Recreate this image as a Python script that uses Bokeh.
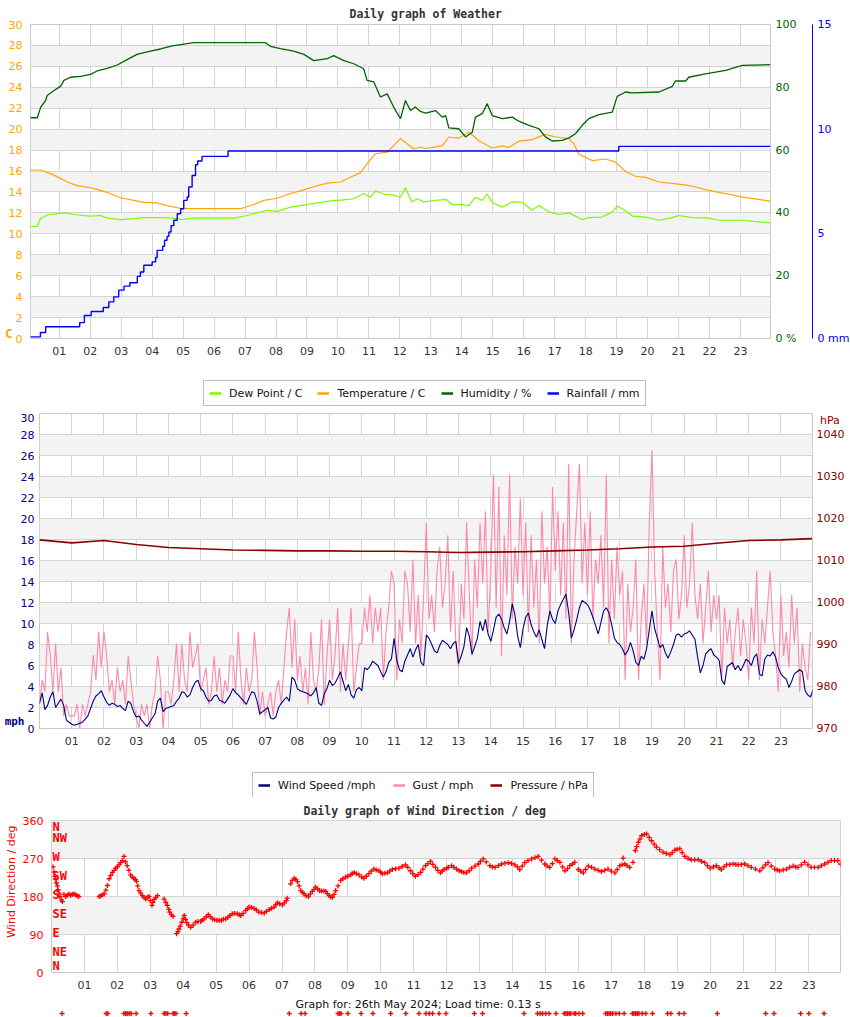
import numpy as np
from bokeh.plotting import figure
from bokeh.models import (Range1d, LinearAxis, FixedTicker, Legend, LegendItem,
                          Title, LabelSet, ColumnDataSource)
from bokeh.core.properties import value
from bokeh.embed import file_html
from bokeh.resources import INLINE

# ---------------------------------------------------------------- data
HOUR_TICKS = list(range(1, 24))
HOUR_LABELS = ["01", "02", "03", "04", "05", "06", "07", "08", "09", "10", "11", "12",
               "13", "14", "15", "16", "17", "18", "19", "20", "21", "22", "23"]

TEMP_T = [0.07, 0.39, 0.72, 1.04, 1.26, 1.58, 2.0, 2.33, 2.65, 2.98, 3.4, 3.73, 4.16, 4.49,
          4.97, 5.56, 6.85, 7.28, 7.6, 8.03, 8.47, 8.79, 9.22, 9.65, 10.08, 10.4, 10.73,
          10.94, 11.21, 11.59, 12.02, 12.23, 12.45, 12.66, 12.83, 13.37, 13.58, 13.9, 14.23,
          14.55, 14.98, 15.31, 15.52, 15.84, 16.27, 16.7, 17.03, 17.46, 17.62, 17.78, 18.21,
          18.64, 18.97, 19.29, 19.61, 19.94, 20.37, 21.01, 21.44, 21.98, 22.52, 23.06, 23.59, 23.97]
TEMP_V = [16.1, 16.1, 15.75, 15.3, 14.95, 14.6, 14.4, 14.15, 13.85, 13.45, 13.2, 13.0, 12.95, 12.7,
          12.4, 12.4, 12.4, 12.8, 13.2, 13.4, 13.85, 14.1, 14.5, 14.85, 14.95, 15.4, 15.85,
          16.7, 17.65, 17.8, 19.1, 18.6, 18.1, 18.3, 18.15, 18.4, 19.25, 19.15, 19.7,
          18.9, 18.2, 18.4, 18.25, 18.85, 19.0, 19.5, 19.25, 19.1, 18.6, 17.6, 17.0,
          17.15, 16.85, 15.95, 15.5, 15.4, 14.95, 14.75, 14.55, 14.15, 13.85, 13.5, 13.3, 13.1]

DEW_T = [0.07, 0.29, 0.39, 0.61, 0.88, 1.15, 1.58, 2.01, 2.33, 2.55, 2.98, 3.4, 3.73, 4.27, 4.7,
         4.97, 5.35, 6.64, 7.07, 7.39, 7.72, 8.03, 8.47, 8.9, 9.33, 9.76, 10.19, 10.51, 10.83,
         11.05, 11.21, 11.48, 11.8, 12.02, 12.18, 12.39, 12.56, 12.77, 13.15, 13.48, 13.69,
         14.01, 14.23, 14.44, 14.66, 14.82, 14.98, 15.31, 15.63, 15.95, 16.27, 16.49, 16.81,
         17.14, 17.46, 17.89, 18.1, 18.53, 18.86, 19.02, 19.29, 19.5, 19.94, 20.37, 20.8,
         21.01, 21.44, 21.98, 22.3, 23.06, 23.59, 23.97]
DEW_V = [10.7, 10.7, 11.45, 11.8, 11.9, 12.0, 11.8, 11.7, 11.75, 11.5, 11.35, 11.45, 11.55, 11.55, 11.5,
         11.35, 11.5, 11.5, 11.75, 12.0, 12.25, 12.15, 12.55, 12.75, 12.95, 13.15, 13.25, 13.35, 13.85,
         13.5, 14.1, 13.8, 13.7, 13.5, 14.4, 13.05, 13.35, 13.05, 13.2, 13.3, 12.8,
         12.8, 12.7, 13.5, 13.2, 13.8, 13.0, 12.55, 13.05, 13.0, 12.25, 12.7, 12.1,
         11.85, 12.0, 11.35, 11.55, 11.6, 12.1, 12.65, 12.2, 11.7, 11.6, 11.3, 11.55,
         11.75, 11.55, 11.5, 11.3, 11.3, 11.15, 11.05]

HUM_T = [0.07, 0.29, 0.4, 0.56, 0.61, 0.83, 1.04, 1.15, 1.36, 1.69, 2.01, 2.22, 2.55, 2.87, 3.19,
         3.51, 3.84, 4.27, 4.65, 5.34, 6.64, 7.66, 7.82, 8.14, 8.57, 8.9, 9.22, 9.65, 9.86, 10.19,
         10.51, 10.83, 10.94, 11.16, 11.37, 11.59, 11.8, 11.96, 12.02, 12.18, 12.34, 12.5, 12.66,
         12.83, 13.15, 13.37, 13.48, 13.58, 13.9, 14.12, 14.34, 14.44, 14.66, 14.82, 14.98, 15.31,
         15.63, 15.84, 16.17, 16.49, 16.7, 16.92, 17.24, 17.46, 17.67, 17.89, 18.1, 18.43, 18.86,
         19.02, 19.29, 19.5, 20.37, 20.8, 20.9, 21.23, 21.33, 21.87, 22.52, 23.06, 23.97]
HUM_V = [70.3, 70.3, 73.7, 75.8, 77.4, 79.0, 80.3, 82.2, 83.2, 83.5, 84.1, 85.2, 86.0, 87.1, 88.8,
         90.5, 91.3, 92.2, 93.2, 94.2, 94.2, 94.2, 93.0, 92.3, 91.5, 90.5, 88.5, 89.1, 90.1, 88.5,
         87.5, 85.9, 82.2, 81.7, 76.9, 77.9, 73.7, 71.0, 70.0, 75.8, 72.6, 73.7, 72.3,
         71.8, 72.6, 70.5, 71.0, 67.1, 66.8, 64.2, 65.7, 70.5, 71.6, 74.8, 71.0, 70.0,
         70.5, 69.2, 67.9, 66.8, 64.2, 62.9, 63.1, 63.9, 65.2, 67.9, 70.0, 71.3, 72.1,
         77.1, 78.5, 78.2, 78.5, 80.3, 82.0, 82.0, 83.2, 84.3, 85.4, 87.0, 87.2]

RAIN_T = [0.07, 0.39, 0.56, 1.66, 1.81, 2.03, 2.42, 2.60, 2.76, 2.92, 3.09, 3.28, 3.52, 3.62, 3.73,
          4.00, 4.11, 4.16, 4.34, 4.40, 4.48, 4.54, 4.61, 4.70, 4.81, 4.92, 5.02, 5.13, 5.18, 5.29,
          5.40, 5.47, 5.61, 6.45, 19.07, 23.97]
RAIN_V = [0.08, 0.29, 0.56, 0.76, 1.10, 1.29, 1.48, 1.75, 1.99, 2.31, 2.50, 2.66, 2.97, 3.18, 3.50,
          3.66, 3.87, 4.21, 4.41, 4.69, 4.88, 5.09, 5.39, 5.65, 5.96, 6.20, 6.60, 6.76, 7.24, 7.79,
          8.30, 8.48, 8.70, 8.96, 9.18, 9.18]

# wind speed, one reading every 5 minutes from 00:00 (12 per row = 1 hour)
SPEED = [2.4, 3.4, 1.8, 2.2, 3.0, 3.5, 2.0, 2.4, 2.8, 2.2, 0.8, 0.6,
         0.4, 0.3, 0.4, 0.5, 0.6, 0.9, 1.2, 1.9, 2.6, 3.1, 3.3, 3.6,
         3.0, 2.5, 2.2, 2.4, 2.3, 2.1, 2.2, 1.9, 1.7, 2.6, 2.4, 1.6,
         1.1, 1.2, 0.8, 0.5, 0.2, 0.6, 1.0, 1.4, 2.6, 2.9, 1.6, 1.9,
         2.0, 2.1, 2.2, 2.6, 2.9, 3.5, 3.4, 3.0, 3.2, 3.9, 4.4, 4.6,
         3.8, 3.6, 3.0, 2.6, 2.7, 3.1, 3.2, 2.7, 2.6, 2.4, 2.8, 3.2,
         3.8, 3.4, 3.2, 2.9, 2.6, 2.3, 2.9, 3.5, 3.4, 2.6, 1.4, 1.6,
         1.8, 2.0, 1.0, 0.9, 1.1, 2.0, 2.4, 2.7, 3.0, 2.6, 4.9, 4.6,
         3.8, 3.6, 3.5, 3.4, 3.3, 3.1, 3.4, 3.9, 2.4, 2.2, 3.3, 3.8,
         4.6, 4.1, 4.3, 4.8, 5.4, 4.5, 3.6, 4.2, 3.2, 2.9, 3.7, 3.9,
         3.6, 5.8, 5.6, 5.9, 6.4, 6.2, 6.0, 5.4, 4.9, 5.4, 6.3, 6.6,
         8.6, 6.5, 5.6, 5.4, 6.4, 7.0, 7.6, 6.8, 7.5, 8.0, 6.3, 6.0,
         8.9, 8.6, 8.0, 7.4, 7.2, 7.9, 8.4, 8.2, 8.0, 7.6, 8.1, 8.3,
         6.2, 6.9, 7.8, 9.6, 8.8, 7.1, 7.8, 8.6, 10.2, 9.3, 10.4, 9.0,
         8.3, 9.4, 10.6, 10.9, 10.4, 9.6, 9.0, 10.2, 11.9, 10.8, 8.8, 7.7,
         9.5, 10.6, 11.0, 9.9, 9.2, 8.7, 9.4, 8.5, 7.6, 9.8, 11.2, 10.4,
         10.0, 11.2, 11.8, 12.3, 12.8, 11.0, 8.6, 9.4, 10.4, 11.5, 12.2, 12.0,
         11.8, 11.3, 10.6, 9.8, 9.0, 10.1, 11.2, 11.5, 11.0, 9.9, 8.6, 8.2,
         8.0, 7.6, 7.0, 7.4, 8.2, 7.4, 6.3, 6.0, 6.9, 6.6, 7.6, 9.4,
         11.2, 9.5, 8.6, 7.7, 8.0, 7.2, 6.7, 7.3, 8.0, 8.9, 9.0, 8.7,
         9.0, 9.1, 9.3, 8.9, 8.5, 6.8, 5.3, 6.0, 7.1, 7.4, 7.6, 7.0,
         6.8, 6.5, 4.6, 4.2, 5.9, 6.1, 6.3, 5.6, 6.0, 5.5, 6.0, 6.6,
         6.4, 6.0, 6.8, 7.1, 5.2, 5.0, 6.6, 7.0, 6.9, 7.3, 6.8, 5.8,
         5.2, 4.9, 4.7, 3.9, 4.5, 5.2, 5.4, 5.6, 5.4, 3.6, 3.2, 3.0,
         3.7]

# gusts, one reading every 5 minutes from 00:00
GUST = [2.3, 4.6, 3.5, 9.2, 7.0, 3.5, 8.1, 3.5, 5.8, 1.2, 2.3, 1.2,
        1.2, 1.2, 2.3, 0.0, 2.3, 1.2, 2.3, 3.5, 7.0, 4.6, 9.2, 5.8,
        9.2, 6.9, 3.5, 4.6, 2.3, 5.8, 3.5, 4.6, 2.3, 6.9, 4.6, 2.3,
        1.2, 0.0, 2.3, 1.2, 2.3, 0.0, 2.3, 3.5, 6.9, 4.6, 0.0, 3.5,
        3.5, 2.3, 4.6, 8.1, 3.5, 8.1, 4.6, 3.5, 9.2, 5.8, 6.9, 8.1,
        3.5, 4.6, 5.8, 2.3, 3.5, 6.9, 3.5, 5.8, 2.3, 4.6, 3.5, 6.9,
        6.9, 3.5, 9.2, 4.6, 2.3, 5.8, 3.5, 4.6, 9.2, 5.8, 1.2, 3.5,
        1.2, 2.3, 3.5, 1.2, 3.5, 4.6, 2.3, 5.8, 9.2, 11.5, 5.8, 10.4,
        4.6, 6.9, 3.5, 5.8, 2.3, 9.2, 4.6, 3.5, 5.8, 10.4, 2.3, 6.9,
        10.4, 4.6, 6.9, 11.5, 3.5, 8.1, 4.6, 8.1, 11.5, 3.5, 5.8, 8.1,
        8.1, 11.5, 9.2, 12.7, 8.1, 11.5, 9.2, 11.5, 4.6, 9.2, 11.5, 15.0,
        13.8, 4.6, 10.4, 8.1, 15.0, 13.8, 9.2, 16.1, 8.1, 12.7, 6.9, 12.7,
        19.6, 10.4, 12.7, 9.2, 15.0, 17.3, 11.5, 13.8, 18.4, 9.2, 15.0, 8.1,
        5.8, 13.8, 10.4, 19.6, 12.7, 6.9, 16.1, 11.5, 19.6, 13.8, 20.7, 9.2,
        15.0, 24.2, 11.5, 23.0, 6.9, 18.4, 12.7, 24.2, 10.4, 17.3, 13.8, 21.9,
        12.7, 19.6, 9.2, 18.4, 11.5, 16.1, 8.1, 20.7, 13.8, 17.3, 10.4, 23.0,
        15.0, 20.7, 12.7, 19.6, 10.4, 25.2, 8.1, 16.1, 20.7, 25.2, 13.8, 19.6,
        12.7, 20.7, 10.4, 16.1, 13.8, 18.4, 11.5, 24.2, 8.1, 16.1, 10.4, 17.3,
        12.7, 15.0, 4.6, 13.8, 9.2, 11.5, 16.1, 4.6, 10.4, 13.8, 8.1, 19.6,
        26.5, 15.0, 9.2, 4.6, 17.3, 11.5, 13.8, 9.2, 15.0, 16.1, 10.4, 12.7,
        18.4, 11.5, 13.8, 19.6, 12.7, 10.4, 13.8, 8.1, 11.5, 15.0, 9.2, 12.7,
        10.4, 12.7, 4.6, 11.5, 8.1, 10.4, 5.8, 9.2, 11.5, 6.9, 10.4, 8.1,
        4.6, 11.5, 8.1, 15.0, 4.6, 10.4, 8.1, 11.5, 15.0, 9.2, 6.9, 3.5,
        12.7, 6.9, 9.2, 5.8, 12.7, 8.1, 11.5, 3.5, 8.1, 5.8, 4.6, 9.2]

PRES_T = list(range(24)) + [23.97]
PRES_V = [1014.9, 1014.2, 1014.75, 1013.8, 1013.1, 1012.8, 1012.5, 1012.4, 1012.3, 1012.3,
          1012.2, 1012.2, 1012.1, 1011.9, 1012.0, 1012.1, 1012.3, 1012.5, 1012.8, 1013.2,
          1013.4, 1014.1, 1014.75, 1014.9, 1015.2]

DIR_T = [0.05, 0.08, 0.10, 0.13, 0.15, 0.18, 0.20, 0.23, 0.26, 0.30, 0.33, 0.38, 0.43, 0.48, 0.53,
         0.58, 0.63, 0.68, 0.73, 0.78, 0.83,
         1.45, 1.50, 1.55, 1.60, 1.65, 1.70, 1.75, 1.80, 1.85, 1.90, 1.95, 2.00, 2.05, 2.10, 2.15,
         2.20, 2.25, 2.30, 2.35, 2.40, 2.45, 2.50, 2.55, 2.58, 2.62, 2.66, 2.71, 2.76, 2.81, 2.86,
         2.91, 2.96, 3.00, 3.05, 3.08, 3.12, 3.17, 3.22,
         3.42, 3.47, 3.52, 3.56, 3.59, 3.64, 3.69,
         3.80, 3.84, 3.87, 3.91, 3.96, 4.00, 4.03, 4.07, 4.11, 4.16,
         4.23, 4.30, 4.38, 4.45, 4.53, 4.58, 4.63, 4.70, 4.76, 4.82,
         4.89, 4.95, 5.02, 5.09, 5.16, 5.22, 5.29, 5.36, 5.42, 5.49,
         5.56, 5.64, 5.70, 5.75, 5.82, 5.90, 5.95, 6.00, 6.07, 6.15,
         6.22, 6.30, 6.38, 6.46, 6.53, 6.61, 6.68, 6.76, 6.81, 6.86,
         6.93, 7.01, 7.07, 7.13, 7.16,
         7.26, 7.31, 7.37, 7.42, 7.47, 7.52, 7.57, 7.62, 7.67, 7.73,
         7.80, 7.86, 7.92, 7.97, 8.02, 8.08, 8.14, 8.20, 8.27, 8.33,
         8.38, 8.43, 8.48, 8.53, 8.58, 8.63, 8.70, 8.78, 8.85, 8.93,
         9.00, 9.08, 9.13, 9.19, 9.26, 9.34, 9.42, 9.49, 9.56, 9.64,
         9.71, 9.79, 9.86, 9.94, 10.00, 10.05, 10.12, 10.20, 10.27, 10.35,
         10.45, 10.55, 10.65, 10.75, 10.82, 10.90, 10.97, 11.05, 11.13, 11.21,
         11.28, 11.36, 11.43, 11.51, 11.58, 11.66, 11.73, 11.81, 11.86, 11.92,
         12.00, 12.05, 12.15, 12.22, 12.30, 12.38, 12.45, 12.52, 12.60, 12.68,
         12.76, 12.86, 12.96, 13.03, 13.11, 13.20, 13.31, 13.39, 13.47, 13.57,
         13.67, 13.77, 13.87, 13.97, 14.07, 14.15, 14.22, 14.30, 14.37, 14.47,
         14.58, 14.68, 14.78, 14.88, 14.98, 15.05, 15.13, 15.21, 15.29, 15.36,
         15.44, 15.52, 15.59, 15.67, 15.74, 15.82, 15.89, 16.00, 16.07, 16.15,
         16.22, 16.30, 16.40, 16.50, 16.60, 16.70, 16.80, 16.90, 17.00, 17.11,
         17.18, 17.26, 17.33, 17.36, 17.41, 17.48, 17.56, 17.66,
         17.73, 17.77, 17.82, 17.87, 17.92, 18.00, 18.07, 18.15, 18.22, 18.30,
         18.37, 18.47, 18.57, 18.67, 18.78, 18.85, 18.93, 19.00, 19.08, 19.15,
         19.23, 19.33, 19.43, 19.53, 19.64, 19.74, 19.84, 19.92, 20.00, 20.10,
         20.19, 20.27, 20.34, 20.42, 20.50, 20.60, 20.70, 20.78, 20.85, 20.95,
         21.05, 21.15, 21.25, 21.38, 21.51, 21.60, 21.68, 21.76, 21.86, 21.96,
         22.04, 22.11, 22.22, 22.32, 22.42, 22.52, 22.60, 22.67, 22.77, 22.87,
         22.97, 23.07, 23.17, 23.28, 23.38, 23.48, 23.58, 23.68, 23.78, 23.88,
         23.96]
DIR_V = [250, 238, 228, 220, 212, 205, 196, 188, 180, 172, 168, 185, 180, 183, 186,
         183, 185, 186, 184, 182, 180,
         180, 182, 184, 186, 195, 206, 222, 230, 237, 242, 247, 250, 255, 260, 265,
         275, 262, 253, 242, 231, 226, 223, 220, 216, 205, 194, 188, 182, 178, 174,
         178, 180, 170, 159, 166, 173, 178, 182,
         174, 166, 159, 150, 143, 137, 133,
         92, 97, 103, 110, 119, 127, 135, 126, 118, 112,
         107, 112, 119, 121, 121, 124, 127, 132, 137, 132,
         127, 125, 124, 123, 124, 126, 127, 131, 135, 139,
         140, 139, 137, 135, 140, 147, 151, 155, 154, 152,
         148, 143, 142, 141, 145, 149, 152, 155, 160, 165,
         163, 160, 165, 170, 176,
         210, 218, 223, 220, 215, 205, 194, 190, 186, 182,
         180, 186, 192, 197, 202, 198, 194, 193, 193, 192,
         187, 182, 179, 178, 185, 194, 205, 218, 222, 226,
         228, 231, 234, 237, 234, 231, 226, 223, 228, 234,
         240, 245, 243, 241, 237, 234, 235, 236, 240, 244,
         246, 247, 251, 255, 249, 241, 234, 228, 232, 237,
         245, 253, 258, 263, 256, 249, 242, 236, 240, 244,
         247, 249, 253, 249, 245, 241, 239, 237, 236, 241,
         247, 252, 257, 263, 269, 262, 253, 250, 249, 253,
         257, 259, 260, 258, 255, 250, 244, 252, 260, 265,
         269, 272, 275, 266, 257, 252, 249, 258, 269, 265,
         261, 250, 241, 246, 253, 257, 261, 244, 240, 236,
         244, 252, 249, 245, 242, 239, 242, 245, 240, 236,
         244, 253, 255, 271, 257, 253, 249, 261,
         289, 298, 308, 316, 324, 327, 328, 320, 312, 304,
         297, 291, 285, 282, 279, 284, 290, 292, 293, 284,
         275, 270, 267, 267, 267, 263, 260, 253, 247, 250,
         253, 248, 244, 250, 255, 256, 257, 256, 255, 256,
         257, 253, 249, 245, 241, 248, 255, 260, 252, 245,
         243, 241, 243, 245, 249, 252, 250, 249, 255, 261,
         255, 249, 249, 249, 253, 257, 261, 265, 265, 265,
         257]

# readings without a valid direction (drawn under the graph)
BAD_T = [0.32, 1.66, 1.71, 2.2, 2.25, 2.3, 2.36, 2.42, 2.57, 3.02, 3.42, 3.47, 3.53, 3.69, 3.73,
         3.78, 4.09, 7.22, 7.58, 7.7, 8.7, 8.75, 8.79, 9.0, 9.4, 9.76, 10.3, 10.76, 11.16, 11.37,
         11.47, 11.57, 11.77, 11.98, 12.84, 13.09, 14.35, 14.76, 14.84, 14.91, 15.01, 15.11, 15.32,
         15.57, 15.62, 15.67, 15.72, 15.77, 15.87, 15.92, 16.02, 16.13, 16.83, 16.88, 16.93, 16.98,
         17.04, 17.14, 17.24, 17.39, 17.64, 17.69, 17.74, 17.79, 17.84, 17.94, 18.05, 18.25, 18.71,
         18.81, 19.06, 19.21, 20.22, 21.69, 21.94, 22.75, 23.0, 23.46]

COMPASS_DEG = [0, 45, 90, 135, 180, 225, 270, 315, 360]
COMPASS_LBL = ["N", "NE", "E", "SE", "S", "SW", "W", "NW", "N"]

TOP_LEGEND = ["Dew Point / C", "Temperature / C", "Humidity / %", "Rainfall / mm"]
WIND_LEGEND = ["Wind Speed /mph", "Gust / mph", "Pressure / hPa"]

# ---------------------------------------------------------------- style
SANS = "DejaVu Sans"
MONO = "DejaVu Sans Mono"
DEW_C, TEMP_C, HUM_C, RAIN_C = "#7cfc00", "#ffa500", "#006400", "#0000ff"
SPEED_C, GUST_C, PRES_C, DIR_C = "#000080", "#ff88aa", "#8b0000", "#ff0000"
GRID_C, BAND_C = "#d4d4d4", "#f3f3f3"
PAGE_W = 850

X1 = (0.07, 23.97)
X2 = (0.0, 23.98)
X3 = (0.0, 23.96)


def fx3(px): return X3[0] + (px - 51) * (X3[1] - X3[0]) / 789.0
def fy1(py): return (338 - py) * 30.0 / 314.0
def fy2(py): return (728 - py) * 30.0 / 315.0
def fp2(py): return 970 + (728 - py) * 75.0 / 315.0


def style_axis(ax, color, standoff, size="11px", font=SANS, bold=False):
    ax.major_tick_out = 0
    ax.major_tick_in = 0
    ax.minor_tick_out = 0
    ax.minor_tick_in = 0
    ax.major_tick_line_color = None
    ax.minor_tick_line_color = None
    ax.axis_line_color = None
    ax.major_label_text_color = color
    ax.major_label_text_font = font
    ax.major_label_text_font_size = size
    ax.major_label_text_font_style = "bold" if bold else "normal"
    ax.major_label_standoff = standoff


def unit_axis(pos, text, color, standoff, size="12px", font=MONO, bold=True,
              range_name="default"):
    ax = LinearAxis(y_range_name=range_name, ticker=FixedTicker(ticks=[pos]),
                    major_label_overrides={pos: text})
    style_axis(ax, color, standoff, size, font, bold)
    return ax


def make_fig(xr, yr, fw, fh, left, top, bottom, yticks, ycolor, ystand):
    p = figure(x_range=xr, y_range=yr, frame_width=fw, frame_height=fh,
               min_border_left=left, min_border_right=PAGE_W - left - fw,
               min_border_top=top, min_border_bottom=bottom,
               output_backend="svg", toolbar_location=None, title=None)
    p.background_fill_color = "white"
    p.border_fill_color = "white"
    p.outline_line_color = "#c8c8c8"
    xa = p.xaxis[0]
    xa.ticker = FixedTicker(ticks=HOUR_TICKS)
    xa.major_label_overrides = dict(zip(HOUR_TICKS, HOUR_LABELS))
    style_axis(xa, "#333333", 8)
    ya = p.yaxis[0]
    ya.ticker = FixedTicker(ticks=yticks)
    style_axis(ya, ycolor, ystand)
    p.xgrid.ticker = FixedTicker(ticks=HOUR_TICKS)
    p.ygrid.ticker = FixedTicker(ticks=yticks)
    p.grid.grid_line_color = GRID_C
    p.ygrid.band_fill_color = BAND_C
    p.ygrid.band_fill_alpha = 1.0
    return p


def blank_fig(height, left=0, right=0, xr=None, yr=None):
    p = figure(x_range=xr if xr is not None else Range1d(0, 1),
               y_range=yr if yr is not None else Range1d(0, 1),
               frame_width=PAGE_W - left - right, frame_height=height,
               min_border_left=left, min_border_right=right,
               min_border_top=0, min_border_bottom=0,
               x_axis_location=None, y_axis_location=None,
               output_backend="svg", toolbar_location=None, title=None)
    p.grid.visible = False
    p.outline_line_color = None
    p.background_fill_color = "white"
    p.border_fill_color = "white"
    return p


def legend_strip(height, labels, colors, left_px, bottom_px, spacing):
    p = blank_fig(height)
    keys = [p.line(x=[-3, -2], y=[-3, -3], line_color=c, line_width=2.5) for c in colors]
    leg = Legend(items=[LegendItem(label=t, renderers=[r]) for t, r in zip(labels, keys)],
                 orientation="horizontal", location=(left_px, bottom_px), margin=0,
                 padding=5, spacing=spacing, glyph_width=12, glyph_height=14, label_height=14,
                 label_standoff=8, label_text_font=SANS, label_text_font_size="11px",
                 label_text_color="#111111", border_line_color="#808080",
                 border_line_width=1, background_fill_color="white", background_fill_alpha=1.0)
    p.add_layout(leg, "center")
    return p


# ---------------------------------------------------------------- weather (y 0..362)
p1 = make_fig(Range1d(*X1), Range1d(0, 30), 740, 314, 30, 24, 24,
              list(range(0, 31, 2)), TEMP_C, 8)
p1.add_layout(Title(text="Daily graph of Weather", align="left", offset=319, standoff=8,
                    text_font=MONO, text_font_size="11.5px",
                    text_font_style="bold", text_color="#333333"), "above")
p1.extra_y_ranges = {"hum": Range1d(0, 100), "rain": Range1d(0, 15)}
p1.add_layout(unit_axis(fy1(333), "C", TEMP_C, -7), "left")
ax_h = LinearAxis(y_range_name="hum", ticker=FixedTicker(ticks=[0, 20, 40, 60, 80, 100]),
                  major_label_overrides={0: "0 %"})
style_axis(ax_h, HUM_C, 5)
ax_h.axis_label = " "
ax_h.axis_label_standoff = 0
ax_h.axis_label_text_font_size = "9px"
p1.add_layout(ax_h, "right")
ax_r = LinearAxis(y_range_name="rain", ticker=FixedTicker(ticks=[0, 5, 10, 15]),
                  major_label_overrides={0: "0 mm"})
style_axis(ax_r, RAIN_C, 5)
ax_r.axis_line_color = RAIN_C
ax_r.axis_line_width = 1
p1.add_layout(ax_r, "right")

p1.line(DEW_T, DEW_V, line_color=DEW_C, line_width=1.2)
p1.line(TEMP_T, TEMP_V, line_color=TEMP_C, line_width=1.2)
p1.line(HUM_T, HUM_V, line_color=HUM_C, line_width=1.3, y_range_name="hum")
p1.step(RAIN_T, RAIN_V, mode="after", line_color=RAIN_C, line_width=1.4, y_range_name="rain")

# ---------------------------------------------------------------- weather legend (362..413)
leg1 = legend_strip(51, TOP_LEGEND, [DEW_C, TEMP_C, HUM_C, RAIN_C], 203, 7, 15)

# ---------------------------------------------------------------- wind (413..772)
p2 = make_fig(Range1d(*X2), Range1d(0, 30), 773, 315, 39, 0, 44,
              list(range(0, 31, 2)), SPEED_C, 5)
p2.add_layout(unit_axis(fy2(721), "mph", SPEED_C, -7, size="11px"), "left")
p2.extra_y_ranges = {"pres": Range1d(970, 1045)}
hpa_pos = round(fp2(419), 2)
ax_p = LinearAxis(y_range_name="pres",
                  ticker=FixedTicker(ticks=list(range(970, 1041, 10)) + [hpa_pos]),
                  major_label_overrides={hpa_pos: "\u00a0hPa"})
style_axis(ax_p, PRES_C, 4)
p2.add_layout(ax_p, "right")

gust_t = np.arange(len(GUST)) / 12.0
speed_t = np.arange(len(SPEED)) / 12.0
p2.line(gust_t, GUST, line_color=GUST_C, line_width=1.1)
p2.line(speed_t, SPEED, line_color=SPEED_C, line_width=1.1)
p2.line(PRES_T, PRES_V, line_color=PRES_C, line_width=1.6, y_range_name="pres")

# ---------------------------------------------------------------- wind legend (772..797)
leg2 = legend_strip(25, WIND_LEGEND, [SPEED_C, GUST_C, PRES_C], 252, -1, 17)

# ---------------------------------------------------------------- direction (797..994)
p3 = make_fig(Range1d(*X3), Range1d(0, 360), 789, 152, 51, 23, 22,
              [0, 90, 180, 270, 360], DIR_C, 8)
p3.add_layout(Title(text="Wind Direction / deg", align="right", offset=5, standoff=0,
                    vertical_align="top", text_font=SANS, text_font_size="11px",
                    text_font_style="normal", text_color=DIR_C), "left")
p3.add_layout(Title(text="Daily graph of Wind Direction / deg", align="left", offset=252,
                    standoff=6, text_font=MONO, text_font_size="11.5px",
                    text_font_style="bold", text_color="#333333"), "above")
p3.scatter(DIR_T, DIR_V, marker="cross", size=5, line_color=DIR_C, line_width=1.3)

compass_src = ColumnDataSource(dict(x=[fx3(52)] * len(COMPASS_DEG), y=COMPASS_DEG,
                                    text=COMPASS_LBL,
                                    dy=[7, 2, 2, 2, 2, 2, 2, 2, -6]))
p3.add_layout(LabelSet(x="x", y="y", text="text", source=compass_src, y_offset="dy",
                       text_font=value(MONO), text_font_size="12px", text_font_style="bold",
                       text_color=DIR_C, text_align="left", text_baseline="middle"))

# ---------------------------------------------------------------- footer (994..1017)
p4 = blank_fig(23, left=51, right=10, xr=p3.x_range, yr=Range1d(0, 23))
p4.text(x=[fx3(295)], y=[13], text=["Graph for: 26th May 2024; Load time: 0.13 s"],
        text_font=value(SANS), text_font_size="11px", text_color="#111111",
        text_align="left", text_baseline="middle")
p4.scatter(BAD_T, [4] * len(BAD_T), marker="cross", size=5, line_color=DIR_C, line_width=1.3)

roots = [p1, leg1, p2, leg2, p3, p4]
open("out.html", "w").write(file_html(roots, INLINE, title="Daily graph of Weather"))
